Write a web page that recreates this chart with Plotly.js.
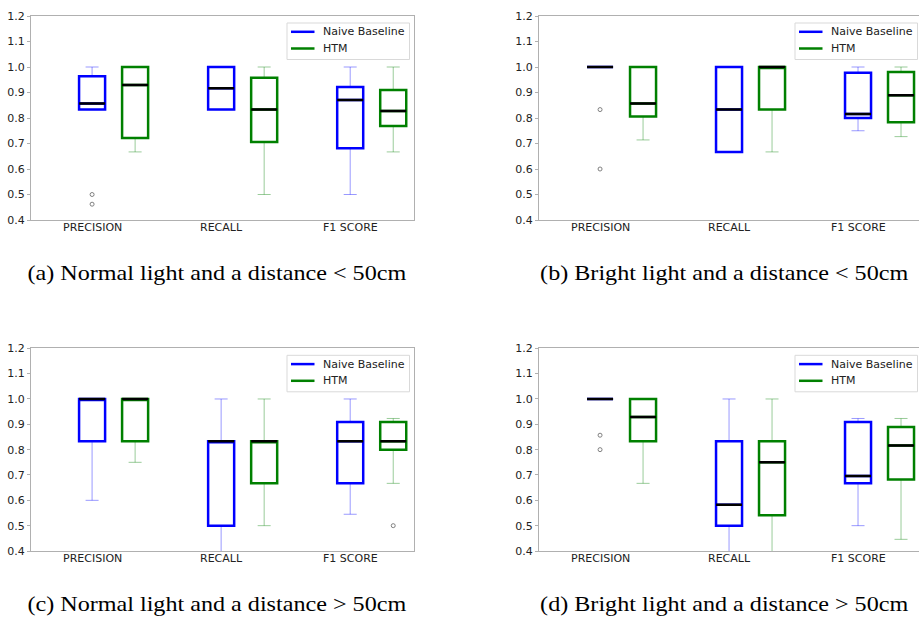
<!DOCTYPE html>
<html>
<head>
<meta charset="utf-8">
<script src="https://cdn.plot.ly/plotly-3.0.1.min.js"></script>
<style>
html,body{margin:0;padding:0;background:#fff;}
#chart{width:919px;height:617px;}
</style>
</head>
<body>
<div id="chart"></div>
<script>
// ---------- data ----------
const categories = ['PRECISION', 'RECALL', 'F1 SCORE'];
const seriesNames = ['Naive Baseline', 'HTM'];
const captions = [
  '(a) Normal light and a distance &lt; 50cm',
  '(b) Bright light and a distance &lt; 50cm',
  '(c) Normal light and a distance &gt; 50cm',
  '(d) Bright light and a distance &gt; 50cm'
];
const yTickVals = [0.4, 0.5, 0.6, 0.7, 0.8, 0.9, 1.0, 1.1, 1.2];

// (a) Normal light, < 50cm
const a_nb_lo  = [0.833, 0.833, 0.500];
const a_nb_q1  = [0.833, 0.833, 0.681];
const a_nb_med = [0.857, 0.917, 0.871];
const a_nb_q3  = [0.964, 1.000, 0.922];
const a_nb_hi  = [1.000, 1.000, 1.000];
const a_nb_out = [[0.500, 0.462], [], []];
const a_htm_lo  = [0.667, 0.500, 0.667];
const a_htm_q1  = [0.722, 0.706, 0.769];
const a_htm_med = [0.929, 0.833, 0.827];
const a_htm_q3  = [1.000, 0.958, 0.910];
const a_htm_hi  = [1.000, 1.000, 1.000];
const a_htm_out = [[], [], []];

// (b) Bright light, < 50cm
const b_nb_lo  = [1.000, 0.667, 0.750];
const b_nb_q1  = [1.000, 0.667, 0.800];
const b_nb_med = [1.000, 0.833, 0.816];
const b_nb_q3  = [1.000, 1.000, 0.977];
const b_nb_hi  = [1.000, 1.000, 1.000];
const b_nb_out = [[0.833, 0.600], [], []];
const b_htm_lo  = [0.714, 0.667, 0.727];
const b_htm_q1  = [0.806, 0.833, 0.783];
const b_htm_med = [0.857, 1.000, 0.889];
const b_htm_q3  = [1.000, 1.000, 0.980];
const b_htm_hi  = [1.000, 1.000, 1.000];
const b_htm_out = [[], [], []];

// (c) Normal light, > 50cm
const c_nb_lo  = [0.600, 0.333, 0.545];
const c_nb_q1  = [0.833, 0.500, 0.667];
const c_nb_med = [1.000, 0.833, 0.833];
const c_nb_q3  = [1.000, 0.833, 0.909];
const c_nb_hi  = [1.000, 1.000, 1.000];
const c_nb_out = [[], [], []];
const c_htm_lo  = [0.750, 0.500, 0.667];
const c_htm_q1  = [0.833, 0.667, 0.800];
const c_htm_med = [1.000, 0.833, 0.833];
const c_htm_q3  = [1.000, 0.833, 0.909];
const c_htm_hi  = [1.000, 1.000, 0.923];
const c_htm_out = [[], [], [0.500]];

// (d) Bright light, > 50cm
const d_nb_lo  = [1.000, 0.333, 0.500];
const d_nb_q1  = [1.000, 0.500, 0.667];
const d_nb_med = [1.000, 0.583, 0.696];
const d_nb_q3  = [1.000, 0.833, 0.909];
const d_nb_hi  = [1.000, 1.000, 0.923];
const d_nb_out = [[0.857, 0.800], [], []];
const d_htm_lo  = [0.667, 0.333, 0.446];
const d_htm_q1  = [0.833, 0.541, 0.682];
const d_htm_med = [0.929, 0.750, 0.816];
const d_htm_q3  = [1.000, 0.833, 0.889];
const d_htm_hi  = [1.000, 1.000, 0.923];
const d_htm_out = [[], [], []];

// ---------- build ----------
const panels = [
  {nb: {lo: a_nb_lo, q1: a_nb_q1, med: a_nb_med, q3: a_nb_q3, hi: a_nb_hi, out: a_nb_out},
   htm: {lo: a_htm_lo, q1: a_htm_q1, med: a_htm_med, q3: a_htm_q3, hi: a_htm_hi, out: a_htm_out}},
  {nb: {lo: b_nb_lo, q1: b_nb_q1, med: b_nb_med, q3: b_nb_q3, hi: b_nb_hi, out: b_nb_out},
   htm: {lo: b_htm_lo, q1: b_htm_q1, med: b_htm_med, q3: b_htm_q3, hi: b_htm_hi, out: b_htm_out}},
  {nb: {lo: c_nb_lo, q1: c_nb_q1, med: c_nb_med, q3: c_nb_q3, hi: c_nb_hi, out: c_nb_out},
   htm: {lo: c_htm_lo, q1: c_htm_q1, med: c_htm_med, q3: c_htm_q3, hi: c_htm_hi, out: c_htm_out}},
  {nb: {lo: d_nb_lo, q1: d_nb_q1, med: d_nb_med, q3: d_nb_q3, hi: d_nb_hi, out: d_nb_out},
   htm: {lo: d_htm_lo, q1: d_htm_q1, med: d_htm_med, q3: d_htm_q3, hi: d_htm_hi, out: d_htm_out}}
];

const W = 919, H = 617;
const colors = {nb: '#0000ff', htm: '#008000'};
const lightColors = {nb: 'rgba(0,0,255,0.4)', htm: 'rgba(0,128,0,0.4)'};
const names = {nb: seriesNames[0], htm: seriesNames[1]};
const tickFont = {family: 'DejaVu Sans', size: 11, color: '#222'};
const px = v => v / W;          // pixel -> paper x
const py = v => 1 - v / H;      // pixel -> paper y

// panel geometry in pixels
const geo = [
  {x0: 31, x1: 414.3, y0: 16, y1: 220, range: [-0.64, 2.33], mirror: true, capX: 216.5, capY: 273},
  {x0: 539, x1: 919, y0: 16, y1: 220, range: [-0.64, 2.306], mirror: false, capX: 724, capY: 273},
  {x0: 31, x1: 414.3, y0: 348.3, y1: 551, range: [-0.64, 2.33], mirror: true, capX: 216.5, capY: 604},
  {x0: 539, x1: 919, y0: 348.3, y1: 551, range: [-0.64, 2.306], mirror: false, capX: 724, capY: 604}
];

const traces = [];
const layout = {
  width: W, height: H,
  margin: {l: 0, r: 0, t: 0, b: 0},
  paper_bgcolor: '#ffffff', plot_bgcolor: '#ffffff',
  boxmode: 'group', boxgap: 1/3, boxgroupgap: 0.395,
  showlegend: false,
  annotations: [],
  shapes: [],
  font: tickFont
};

const pick = (arr, idx) => idx.map(k => arr[k]);

panels.forEach((p, i) => {
  const g = geo[i];
  const sfx = i === 0 ? '' : String(i + 1);
  const xa = 'x' + sfx, ya = 'y' + sfx;
  ['nb', 'htm'].forEach(key => {
    const s = p[key];
    const common = {type: 'box', xaxis: xa, yaxis: ya, offsetgroup: key, showlegend: false,
                    name: names[key], fillcolor: 'rgba(0,0,0,0)', hoverinfo: 'skip'};
    // whiskers (thin, light)
    traces.push(Object.assign({}, common, {
      x: categories,
      q1: s.q1, median: s.med, q3: s.q3, lowerfence: s.lo, upperfence: s.hi,
      boxpoints: false, line: {color: lightColors[key], width: 1}, whiskerwidth: 0.5
    }));
    // outliers (only for the boxes that have some)
    const idx = categories.map((c, k) => k).filter(k => s.out[k].length > 0);
    if (idx.length) {
      traces.push(Object.assign({}, common, {
        x: pick(categories, idx), y: pick(s.out, idx),
        q1: pick(s.q1, idx), median: pick(s.med, idx), q3: pick(s.q3, idx),
        lowerfence: pick(s.lo, idx), upperfence: pick(s.hi, idx),
        boxpoints: 'outliers', pointpos: 0, jitter: 0,
        marker: {symbol: 'circle-open', size: 4, color: '#808080', line: {width: 1}},
        line: {color: 'rgba(0,0,0,0)', width: 0}, whiskerwidth: 0
      }));
    }
    // thick box
    traces.push(Object.assign({}, common, {
      x: categories,
      q1: s.q1, median: s.med, q3: s.q3, lowerfence: s.q1, upperfence: s.q3,
      boxpoints: false, line: {color: colors[key], width: 2.5}, whiskerwidth: 0
    }));
    // black median
    traces.push(Object.assign({}, common, {
      x: categories,
      q1: s.med, median: s.med, q3: s.med, lowerfence: s.med, upperfence: s.med,
      boxpoints: false, line: {color: '#000000', width: 2.5}, whiskerwidth: 0
    }));
  });

  layout['xaxis' + sfx] = {
    domain: [px(g.x0), px(g.x1)], anchor: ya,
    type: 'category', categoryorder: 'array', categoryarray: categories,
    range: g.range, showgrid: false, zeroline: false,
    showline: true, linecolor: '#b0b0b0', linewidth: 1, mirror: true,
    ticks: '', showticklabels: false
  };
  // tick marks sit under the HTM box of each group (as in the source figure)
  layout['xaxis' + (i + 5)] = {
    overlaying: xa, anchor: ya, type: 'linear', range: g.range,
    tickmode: 'array', tickvals: categories.map((c, k) => k + 1 / 6),
    ticks: 'outside', ticklen: 3, tickcolor: '#b0b0b0',
    showticklabels: false, showline: false, showgrid: false, zeroline: false
  };
  layout['yaxis' + sfx] = {
    domain: [py(g.y1), py(g.y0)], anchor: xa,
    range: [0.4, 1.2], tickvals: yTickVals, tickformat: '.1f',
    showgrid: false, zeroline: false,
    showline: true, linecolor: '#b0b0b0', linewidth: 1, mirror: g.mirror,
    ticks: 'outside', ticklen: 3, tickcolor: '#b0b0b0',
    tickfont: tickFont
  };
  // category labels under the Naive Baseline box of each group
  categories.forEach(c => {
    layout.annotations.push({
      xref: xa, yref: ya + ' domain', x: c, y: 0,
      xanchor: 'center', yanchor: 'middle', xshift: -21.5, yshift: -7.5,
      showarrow: false, text: c, font: tickFont
    });
  });
  // legend box (matplotlib-style, upper right)
  const lx = g.x0 + 256, ly = g.y0 + 7;
  layout.shapes.push({
    type: 'rect', xref: 'paper', yref: 'paper', layer: 'above',
    x0: px(lx), x1: px(lx + 122.5), y0: py(ly), y1: py(ly + 36.5),
    fillcolor: 'rgba(255,255,255,0.8)', line: {color: '#d9d9d9', width: 1}
  });
  ['nb', 'htm'].forEach((key, k) => {
    const ry = ly + 8.8 + k * 16.7;
    layout.shapes.push({
      type: 'line', xref: 'paper', yref: 'paper', layer: 'above',
      x0: px(lx + 4), x1: px(lx + 27.5), y0: py(ry), y1: py(ry),
      line: {color: colors[key], width: 2.5}
    });
    layout.annotations.push({
      xref: 'paper', yref: 'paper', x: px(lx + 34), y: py(ry),
      xanchor: 'left', yanchor: 'middle', showarrow: false,
      text: names[key], font: tickFont
    });
  });
  // caption
  layout.annotations.push({
    xref: 'paper', yref: 'paper', x: px(g.capX), y: py(g.capY),
    xanchor: 'center', yanchor: 'middle', showarrow: false,
    text: captions[i],
    font: {family: 'Liberation Serif', size: 21, color: '#000'}
  });
});

Plotly.newPlot('chart', traces, layout, {staticPlot: true, displayModeBar: false}).then(gd => {
  // the source captions are typeset slightly wider than this serif face
  gd.querySelectorAll('.annotation-text').forEach(t => {
    if ((t.textContent || '').indexOf('light and a distance') >= 0) {
      t.style.transformBox = 'fill-box';
      t.style.transformOrigin = 'center';
      t.style.transform = 'scaleX(1.15)';
    }
  });
});
</script>
</body>
</html>
